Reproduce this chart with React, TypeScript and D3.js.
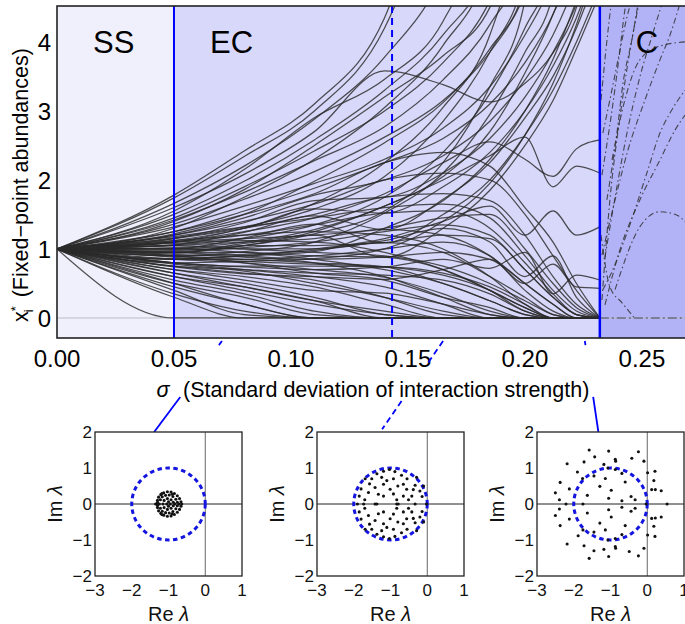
import React from "react";
import * as d3 from "d3";

const W = 685;
const H = 624;
const FONT = "'Liberation Sans', Arial, Helvetica, sans-serif";

// sigma values at which every trajectory is sampled
const sigmaGrid = [0, 0.05, 0.08, 0.11, 0.14, 0.165, 0.185, 0.2, 0.212, 0.222, 0.232];

// trajectories that blow up past the top of the panel
const risingLines = [
  [1, 1.78, 2.42, 3.1, 4.35, 7, 9, 9, 9, 9, 9],
  [1, 1.74, 2.34, 3.0, 4.2, 6.5, 9, 9, 9, 9, 9],
  [1, 1.66, 2.2, 2.88, 3.78, 5.0, 7, 9, 9, 9, 9],
  [1, 1.6, 2.08, 2.7, 3.58, 3.38, 3.13, 3.4, 3.84, 4.5, 6],
  [1, 1.55, 2.15, 2.9, 3.46, 4.3, 6, 9, 9, 9, 9],
  [1, 1.5, 1.98, 2.58, 3.3, 4.1, 5.2, 9, 9, 9, 9],
  [1, 1.45, 1.9, 2.42, 3.0, 3.7, 4.6, 6, 9, 9, 9],
  [1, 1.42, 1.82, 2.28, 2.77, 3.45, 4.25, 5.3, 9, 9, 9],
  [1, 1.36, 1.72, 2.12, 2.62, 3.15, 3.85, 4.7, 6, 9, 9],
  [1, 1.32, 1.62, 1.95, 2.3, 2.75, 3.35, 4.1, 4.9, 6, 9],
  [1, 1.25, 1.55, 1.88, 2.25, 2.6, 3.1, 3.7, 4.4, 5.3, 7],
  [1, 1.2, 1.45, 1.78, 2.0, 2.35, 2.85, 3.45, 4.1, 4.9, 6],
  [1, 1.15, 1.38, 1.7, 1.75, 2.1, 2.6, 3.2, 3.85, 4.55, 5.6],
  [1, 1.1, 1.3, 1.58, 1.52, 1.9, 2.4, 3.0, 3.65, 4.35, 5.3],
  [1, 1.06, 1.24, 1.48, 1.28, 1.72, 2.25, 2.9, 3.5, 4.2, 5.1],
  [1, 1.0, 1.16, 1.36, 1.09, 1.5, 2.0, 2.65, 3.3, 4.0, 4.8],
  [1, 0.94, 1.08, 1.2, 0.88, 1.3, 1.85, 2.5, 3.15, 3.9, 4.7],
  [1, 1.22, 1.5, 1.98, 2.54, 3.12, 3.9, 4.8, 9, 9, 9],
  [1, 1.3, 1.75, 2.3, 3.05, 3.95, 5.2, 9, 9, 9, 9],
  [1, 1.06, 1.15, 1.35, 1.75, 2.4, 3.25, 4.2, 5.2, 9, 9],
  [1, 0.9, 0.96, 1.1, 1.52, 2.1, 2.95, 3.85, 4.7, 9, 9],
  [1, 0.86, 0.9, 0.96, 1.3, 1.7, 2.3, 3.0, 3.75, 4.6, 5.6],
  [1, 0.96, 1.05, 1.22, 1.55, 2.25, 3.35, 4.6, 9, 9, 9],
  [1, 1.16, 1.32, 1.58, 2.05, 2.85, 3.85, 5.0, 9, 9, 9],
  [1, 1.4, 1.86, 2.5, 3.2, 3.8, 4.5, 6, 9, 9, 9],
  [1, 0.8, 0.82, 0.86, 1.0, 1.4, 1.95, 2.65, 3.4, 4.25, 5.3],
  [1, 1.12, 1.3, 1.66, 2.25, 3.05, 4.1, 6, 9, 9, 9],
  [1, 1.02, 1.1, 1.28, 1.62, 2.05, 2.7, 3.55, 4.4, 5.4, 9],
];

// trajectories that go extinct (drop to zero)
const extinctLines = [
  [1, 0, 0, 0, 0, 0, 0, 0, 0, 0, 0],
  [1, 0.3, 0, 0, 0, 0, 0, 0, 0, 0, 0],
  [1, 0.4, 0.05, 0, 0, 0, 0, 0, 0, 0, 0],
  [1, 0.45, 0.2, 0, 0, 0, 0, 0, 0, 0, 0],
  [1, 0.5, 0.3, 0.05, 0, 0, 0, 0, 0, 0, 0],
  [1, 0.55, 0.35, 0.1, 0, 0, 0, 0, 0, 0, 0],
  [1, 0.6, 0.45, 0.25, 0, 0, 0, 0, 0, 0, 0],
  [1, 0.65, 0.5, 0.3, 0.05, 0, 0, 0, 0, 0, 0],
  [1, 0.7, 0.6, 0.45, 0.2, 0, 0, 0, 0, 0, 0],
  [1, 0.75, 0.65, 0.55, 0.3, 0.05, 0, 0, 0, 0, 0],
  [1, 0.8, 0.7, 0.6, 0.45, 0.2, 0, 0, 0, 0, 0],
  [1, 0.85, 0.8, 0.7, 0.59, 0.35, 0.1, 0, 0, 0, 0],
  [1, 0.9, 0.85, 0.8, 0.74, 0.5, 0.25, 0.05, 0, 0, 0],
  [1, 0.95, 0.95, 0.9, 0.88, 0.7, 0.4, 0.1, 0, 0, 0],
  [1, 1.0, 1.0, 1.0, 1.09, 0.95, 0.6, 0.3, 0.05, 0, 0],
  [1, 1.05, 1.1, 1.15, 1.28, 1.2, 0.9, 0.5, 0.2, 0, 0],
  [1, 1.1, 1.2, 1.35, 1.52, 1.55, 1.3, 0.8, 0.35, 0.05, 0],
  [1, 1.15, 1.3, 1.5, 1.75, 1.8, 1.7, 1.2, 0.6, 0.2, 0],
  [1, 1.2, 1.4, 1.65, 2.0, 2.1, 2.0, 1.5, 0.9, 0.4, 0],
  [1, 1.25, 1.5, 1.8, 2.25, 2.4, 2.2, 1.6, 1.1, 0.5, 0],
  [1, 0.7, 0.55, 0.4, 0.36, 0.2, 0.05, 0, 0, 0, 0],
  [1, 0.6, 0.4, 0.2, 0.05, 0, 0, 0, 0, 0, 0],
  [1, 0.9, 0.8, 0.65, 0.55, 0.3, 0.15, 0, 0, 0, 0],
  [1, 0.8, 0.75, 0.75, 0.74, 0.65, 0.45, 0.2, 0, 0, 0],
  [1, 0.95, 0.9, 0.85, 0.88, 0.95, 0.85, 0.5, 0.2, 0, 0],
  [1, 1.0, 1.05, 1.05, 1.09, 1.2, 1.15, 0.7, 0.3, 0.05, 0],
  [1, 0.85, 0.85, 0.9, 1.0, 1.1, 0.9, 0.4, 0.1, 0, 0],
  [1, 1.1, 1.15, 1.2, 1.3, 1.45, 1.5, 1.0, 0.5, 0.15, 0],
  [1, 0.65, 0.45, 0.25, 0.1, 0, 0, 0, 0, 0, 0],
  [1, 0.5, 0.2, 0, 0, 0, 0, 0, 0, 0, 0],
  [1, 0.35, 0.1, 0, 0, 0, 0, 0, 0, 0, 0],
  [1, 0.75, 0.7, 0.65, 0.62, 0.55, 0.35, 0.1, 0, 0, 0],
  [1, 1.05, 1.0, 0.95, 0.9, 0.75, 0.5, 0.25, 0.05, 0, 0],
  [1, 1.0, 0.95, 0.85, 0.7, 0.5, 0.25, 0.05, 0, 0, 0],
  [1, 0.92, 0.88, 0.8, 0.6, 0.3, 0.05, 0, 0, 0, 0],
  [1, 1.08, 1.12, 1.1, 0.95, 0.7, 0.4, 0.15, 0, 0, 0],
  [1, 1.12, 1.2, 1.25, 1.2, 1.0, 0.6, 0.2, 0, 0, 0],
  [1, 0.78, 0.68, 0.5, 0.3, 0.1, 0, 0, 0, 0, 0],
  [1, 0.98, 1.02, 1.1, 1.25, 1.35, 1.2, 0.7, 0.3, 0.05, 0],
  [1, 1.18, 1.32, 1.45, 1.6, 1.65, 1.45, 0.9, 0.4, 0.1, 0],
  [1, 0.88, 0.82, 0.78, 0.74, 0.62, 0.4, 0.15, 0, 0, 0],
];

// trajectories still finite at the edge of chaos
const survivingLines = [
  [1, 1.1, 1.25, 1.45, 1.8, 2.25, 2.55, 2.3, 2.05, 2.45, 2.58],
  [1, 0.95, 1.05, 1.25, 1.62, 2.0, 2.35, 2.62, 1.9, 2.2, 2.1],
  [1, 0.85, 0.9, 1.0, 1.15, 1.4, 1.62, 1.2, 1.55, 1.2, 1.32],
  [1, 0.8, 0.74, 0.7, 0.74, 0.85, 0.72, 0.95, 0.35, 0.62, 0.55],
  [1, 0.74, 0.64, 0.6, 0.56, 0.7, 0.85, 0.5, 0.78, 0.45, 0.43],
  [1, 0.9, 0.92, 0.98, 1.12, 1.3, 1.1, 0.6, 0.9, 0.3, 0],
];

// dash-dot traces in the chaotic region: [sigma, x*]
const chaoticLines: [number, number][][] = [
  [[0.232, 0], [0.2684, 0]],
  [[0.2329, 0.26], [0.2363, 1.71], [0.2406, 2.91], [0.2449, 3.88], [0.249, 4.6]],
  [[0.2342, 0.88], [0.2393, 1.9], [0.2436, 2.68], [0.2491, 3.49], [0.2547, 4.13], [0.2585, 4.55]],
  [[0.235, 1.71], [0.2393, 2.68], [0.2419, 3.4], [0.2457, 4.03], [0.2483, 4.55]],
  [[0.2333, 2.68], [0.2363, 3.16], [0.2406, 3.88], [0.2436, 4.36], [0.2455, 4.6]],
  [[0.2333, 0.41], [0.2355, 0.55], [0.2436, 1.23], [0.2521, 2.1], [0.2577, 2.68], [0.262, 2.97], [0.2684, 3.3]],
  [[0.2342, 0.19], [0.2406, 0.99], [0.2491, 1.71], [0.2577, 2.29], [0.2641, 2.72], [0.2684, 2.94]],
  [[0.2385, 0.41], [0.2491, 1.32], [0.2577, 1.54], [0.265, 1.49], [0.2684, 1.39]],
  [[0.2325, 1.2], [0.2363, 0.45], [0.2415, 0.22], [0.2468, 0]],
  [[0.2372, 2.29], [0.2427, 3.16], [0.2491, 3.74], [0.2577, 3.94], [0.2684, 4.0]],
  [[0.2325, 3.16], [0.2346, 3.88], [0.2368, 4.55]],
  [[0.2329, 2.07], [0.2372, 3.01], [0.2406, 3.88], [0.2427, 4.46], [0.2435, 4.6]],
  [[0.2329, 0.91], [0.2385, 1.71], [0.244, 2.43], [0.2513, 3.16], [0.2577, 3.74], [0.262, 4.1], [0.2662, 4.55]],
];

const regionEdges = [0, 0.05, 0.232, 0.2684];
const regionNames = ["SS", "EC", "C"];
const regionFills = ["#f0f0fd", "#d8d8fa", "#b2b2f7"];
const markerSigma = 0.1432;
const xTicks = [0, 0.05, 0.1, 0.15, 0.2, 0.25];
const yTicks = [0, 1, 2, 3, 4];

// eigenvalues of the community matrix at three sigma values: [Re, Im]
const eigWeak: [number, number][] = [
  [-1.35, 0], [-1.3, 0.1], [-1.3, -0.1], [-1.27, 0.19], [-1.27, -0.19], [-1.21, 0.26], [-1.21, -0.26],
  [-1.13, 0.31], [-1.13, -0.31], [-1.03, 0.34], [-1.03, -0.34], [-0.93, 0.33], [-0.93, -0.33],
  [-0.84, 0.29], [-0.84, -0.29], [-0.76, 0.23], [-0.76, -0.23], [-0.7, 0.15], [-0.7, -0.15],
  [-0.66, 0.06], [-0.66, -0.06], [-0.64, 0], [-1.22, 0.12], [-1.22, -0.12], [-1.17, 0.2], [-1.17, -0.2],
  [-1.08, 0.24], [-1.08, -0.24], [-0.98, 0.25], [-0.98, -0.25], [-0.88, 0.21], [-0.88, -0.21],
  [-0.8, 0.13], [-0.8, -0.13], [-0.76, 0.05], [-0.76, -0.05], [-1.12, 0.1], [-1.12, -0.1],
  [-1.03, 0.15], [-1.03, -0.15], [-0.93, 0.12], [-0.93, -0.12], [-0.87, 0.05], [-0.87, -0.05],
  [-1.0, 0.06], [-1.0, -0.06], [-1.25, 0], [-1.15, 0], [-1.05, 0], [-0.95, 0], [-0.83, 0], [-0.72, 0],
  [-1.3, 0.04], [-1.3, -0.04], [-1.18, 0.29], [-1.18, -0.29], [-0.9, 0.27], [-0.9, -0.27],
];

const eigMid: [number, number][] = [
  [-1.03, 0.96], [-1.19, 0.91], [-0.88, 0.9], [-0.7, 0.8], [-0.55, 0.7], [-0.33, 0.52], [-0.2, 0.36],
  [-0.14, 0.21], [-1.37, 0.84], [-1.57, 0.56], [-1.69, 0.7], [-1.8, 0.42], [-1.85, 0.22], [-1.42, 0.46],
  [-1.33, 0.27], [-1.19, 0.55], [-1.1, 0.65], [-1.01, 0.41], [-0.92, 0.28], [-0.8, 0.5], [-0.65, 0.22],
  [-0.56, 0.41], [-0.42, 0.22], [-0.38, 0.4], [-0.92, 0.7], [-0.65, 0.55], [-0.29, 0.74], [-1.6, 0.32],
  [-1.19, 0.22], [-0.83, 0.12], [-0.51, 0.12], [-1.24, 0.74], [-1.51, 0.7], [-0.1, 0.5], [-1.7, 0.12],
  [-1.03, -0.96], [-1.19, -0.91], [-0.88, -0.9], [-0.7, -0.8], [-0.55, -0.7], [-0.33, -0.52], [-0.2, -0.36],
  [-0.14, -0.21], [-1.37, -0.84], [-1.57, -0.56], [-1.69, -0.7], [-1.8, -0.42], [-1.85, -0.22], [-1.42, -0.46],
  [-1.33, -0.27], [-1.19, -0.55], [-1.1, -0.65], [-1.01, -0.41], [-0.92, -0.28], [-0.8, -0.5], [-0.65, -0.22],
  [-0.56, -0.41], [-0.42, -0.22], [-0.38, -0.4], [-0.92, -0.7], [-0.65, -0.55], [-0.29, -0.74], [-1.6, -0.32],
  [-1.19, -0.22], [-0.83, -0.12], [-0.51, -0.12], [-1.24, -0.74], [-1.51, -0.7], [-0.1, -0.5], [-1.7, -0.12],
  [-1.9, 0], [-1.73, 0], [-1.42, 0], [-1.37, 0], [-0.83, 0], [-0.79, 0], [-0.33, 0], [-0.02, 0],
];

const eigStrong: [number, number][] = [
  [-1.58, 1.5], [-1.05, 1.47], [-0.87, 1.24], [-0.86, 1.19], [-0.24, 1.45], [-0.42, 1.27], [-2.18, 1.12],
  [-1.72, 1.17], [-1.43, 1.31], [-1.18, 1.1], [-1.07, 1.0], [-0.87, 0.96], [-0.69, 0.85], [-1.9, 0.89],
  [-1.76, 0.71], [-1.45, 0.78], [-2.37, 0.6], [-2.12, 0.42], [-2.5, 0.31], [-1.29, 0.49], [-0.98, 0.38],
  [-0.6, 0.61], [-0.44, 0.21], [-0.33, 0.12], [-1.63, 0.24], [-2.39, 0.12], [-0.69, 0.09], [-1.05, 0.16],
  [0.01, 0.87], [0.18, 0.65], [0.21, 0.91], [0.12, 0.4], [0.38, 0.37], [0.22, 0.4], [-0.09, 1.19], [-1.14, 0.71],
  [-1.58, -1.51], [-1.05, -1.46], [-0.87, -1.18], [-0.86, -1.23], [-0.24, -1.44], [-0.49, -1.32], [-2.18, -1.11],
  [-1.72, -1.16], [-1.45, -1.3], [-1.18, -1.26], [-1.07, -1.0], [-0.87, -0.96], [-0.69, -0.85], [-1.88, -0.88],
  [-1.75, -0.72], [-1.45, -0.78], [-2.37, -0.6], [-2.12, -0.42], [-2.5, -0.32], [-1.29, -0.53], [-0.98, -0.36],
  [-0.6, -0.6], [-0.44, -0.2], [-0.33, -0.12], [-1.63, -0.25], [-2.39, -0.14], [-0.69, -0.09], [-1.05, -0.16],
  [0.01, -0.86], [0.18, -0.62], [0.21, -0.9], [0.12, -0.4], [0.38, -0.36], [0.22, -0.39], [-0.09, -1.23], [-1.14, -0.72],
  [-2.21, 0], [-1.75, 0], [0.54, 0], [-0.03, 0],
];

const eigSets = [eigWeak, eigMid, eigStrong];
const eigTicksX = [-3, -2, -1, 0, 1];
const eigTicksY = [-2, -1, 0, 1, 2];

// where each inset's connector leaves the sigma axis and meets the inset
const insetSigma = [0.0705, 0.165, 0.2256];
const insetAnchorRe = [-1.39, -1.28, -1.33];
const insetLefts = [95, 317, 537];
const connectorPieces = [
  [[0, 0.045], [0.615, 1]],
  [[0, 0.26], [0.66, 0.97]],
  [[0, 0.045], [0.615, 1]],
];

const plot = { left: 57, right: 685, top: 6, bottom: 338 };
const inset = { top: 432, size: 144, width: 147 };

function Inset({ left, points }: { left: number; points: [number, number][] }) {
  const xs = d3.scaleLinear().domain([-3, 1]).range([left, left + inset.width]);
  const ys = d3.scaleLinear().domain([-2, 2]).range([inset.top + inset.size, inset.top]);
  return (
    <g fontFamily={FONT}>
      <rect x={left} y={inset.top} width={inset.width} height={inset.size} fill="#fff" />
      <line x1={xs(-3)} x2={xs(1)} y1={ys(0)} y2={ys(0)} stroke="#222" strokeWidth={1} />
      <line x1={xs(0)} x2={xs(0)} y1={ys(-2)} y2={ys(2)} stroke="#666" strokeWidth={1} />
      <ellipse
        cx={xs(-1)}
        cy={ys(0)}
        rx={xs(0) - xs(-1)}
        ry={ys(0) - ys(1)}
        fill="none"
        stroke="#1515e0"
        strokeWidth={3}
        strokeDasharray="4.5,3.5"
      />
      {points.map((p, i) => (
        <circle key={i} cx={xs(p[0])} cy={ys(p[1])} r={1.55} fill="#111" />
      ))}
      <rect x={left} y={inset.top} width={inset.width} height={inset.size} fill="none" stroke="#222" strokeWidth={1.3} />
      {eigTicksX.map((t) => (
        <text key={t} x={xs(t)} y={596} fontSize={17} textAnchor="middle" fill="#111">
          {t < 0 ? "\u2212" + Math.abs(t) : t}
        </text>
      ))}
      {eigTicksY.map((t) => (
        <text key={t} x={left - 3} y={ys(t)} dy="0.35em" fontSize={17} textAnchor="end" fill="#111">
          {t < 0 ? "\u2212" + Math.abs(t) : t}
        </text>
      ))}
      <text x={xs(-1)} y={621} fontSize={20} textAnchor="middle" fill="#111">
        Re <tspan fontStyle="italic">λ</tspan>
      </text>
      <text
        transform={`translate(${left - 33},${ys(0)}) rotate(-90)`}
        fontSize={20}
        textAnchor="middle"
        fill="#111"
      >
        Im <tspan fontStyle="italic">λ</tspan>
      </text>
    </g>
  );
}

export default function App() {
  const x = d3.scaleLinear().domain([0, regionEdges[3]]).range([plot.left, plot.right]);
  const y = d3.scaleLinear().domain([-0.29, 4.52]).range([plot.bottom, plot.top]);

  const gridLine = d3
    .line<number>()
    .x((_, i) => x(sigmaGrid[i]))
    .y((d) => y(d))
    .curve(d3.curveMonotoneX);
  const pairLine = d3
    .line<[number, number]>()
    .x((d) => x(d[0]))
    .y((d) => y(d[1]))
    .curve(d3.curveMonotoneX);

  const allLines = [...extinctLines, ...survivingLines, ...risingLines];

  return (
    <svg
      width={W}
      height={H}
      style={{ position: "absolute", left: 0, top: 0, background: "#fff" }}
      fontFamily={FONT}
    >
      <defs>
        <clipPath id="plotClip">
          <rect x={plot.left} y={plot.top} width={plot.right - plot.left} height={plot.bottom - plot.top} />
        </clipPath>
      </defs>

      {/* regions */}
      {regionNames.map((name, i) => (
        <rect
          key={name}
          x={x(regionEdges[i])}
          y={plot.top}
          width={x(regionEdges[i + 1]) - x(regionEdges[i])}
          height={plot.bottom - plot.top}
          fill={regionFills[i]}
        />
      ))}
      {regionNames.map((name, i) => (
        <text key={name} x={x(regionEdges[i]) + 36} y={53} fontSize={31} fill="#000">
          {name}
        </text>
      ))}

      <g clipPath="url(#plotClip)">
        <line x1={plot.left} x2={plot.right} y1={y(0)} y2={y(0)} stroke="#bcbcc8" strokeWidth={1} />
        {allLines.map((vals, i) => (
          <path key={i} d={gridLine(vals) || ""} fill="none" stroke="#2b2b2b" strokeOpacity={0.82} strokeWidth={1.25} />
        ))}
        {chaoticLines.map((pts, i) => (
          <path
            key={i}
            d={pairLine(pts) || ""}
            fill="none"
            stroke="#333"
            strokeOpacity={0.85}
            strokeWidth={1.1}
            strokeDasharray={i === 0 ? "9,3,2,3" : "6,3,1.5,3"}
          />
        ))}
      </g>

      {/* phase boundaries */}
      <line x1={x(regionEdges[1])} x2={x(regionEdges[1])} y1={plot.top} y2={plot.bottom} stroke="#0000ff" strokeWidth={2} />
      <line
        x1={x(markerSigma)}
        x2={x(markerSigma)}
        y1={plot.top}
        y2={plot.bottom}
        stroke="#0000ff"
        strokeWidth={2}
        strokeDasharray="7,5"
      />
      <line x1={x(regionEdges[2])} x2={x(regionEdges[2])} y1={plot.top} y2={plot.bottom} stroke="#0000ff" strokeWidth={2.5} />

      <rect
        x={plot.left}
        y={plot.top}
        width={plot.right - plot.left + 10}
        height={plot.bottom - plot.top}
        fill="none"
        stroke="#222"
        strokeWidth={1.6}
      />

      {/* axes */}
      {xTicks.map((t) => (
        <text key={t} x={x(t)} y={367} fontSize={24} textAnchor="middle" fill="#000">
          {t.toFixed(2)}
        </text>
      ))}
      {yTicks.map((t) => (
        <text key={t} x={51} y={y(t)} dy="0.36em" fontSize={24} textAnchor="end" fill="#000">
          {t}
        </text>
      ))}
      <text x={163} y={397} fontSize={21.5} textAnchor="middle" fontStyle="italic" fill="#000">
        σ
      </text>
      <text x={183} y={397} fontSize={21.5} fill="#000">
        (Standard deviation of interaction strength)
      </text>
      <text transform="translate(28,322) rotate(-90)" fontSize={21.5} fill="#000">
        <tspan>x</tspan>
        <tspan fontSize={13} dy={-8}>*</tspan>
        <tspan fontSize={13} dx={-6} dy={13}>i</tspan>
        <tspan dx={12} dy={-5}>(Fixed−point abundances)</tspan>
      </text>

      {/* connectors to the insets */}
      {insetSigma.map((s, i) => {
        const ixs = d3.scaleLinear().domain([-3, 1]).range([insetLefts[i], insetLefts[i] + inset.width]);
        const x1 = x(s);
        const y1 = plot.bottom + 3;
        const x2 = ixs(insetAnchorRe[i]);
        const y2 = inset.top;
        return connectorPieces[i].map(([a, b], j) => (
          <line
            key={`${i}-${j}`}
            x1={x1 + (x2 - x1) * a}
            y1={y1 + (y2 - y1) * a}
            x2={x1 + (x2 - x1) * b}
            y2={y1 + (y2 - y1) * b}
            stroke="#0000ff"
            strokeWidth={1.8}
            strokeDasharray={i === 1 ? "6,4" : undefined}
          />
        ));
      })}

      {eigSets.map((pts, i) => (
        <Inset key={i} left={insetLefts[i]} points={pts} />
      ))}
    </svg>
  );
}
